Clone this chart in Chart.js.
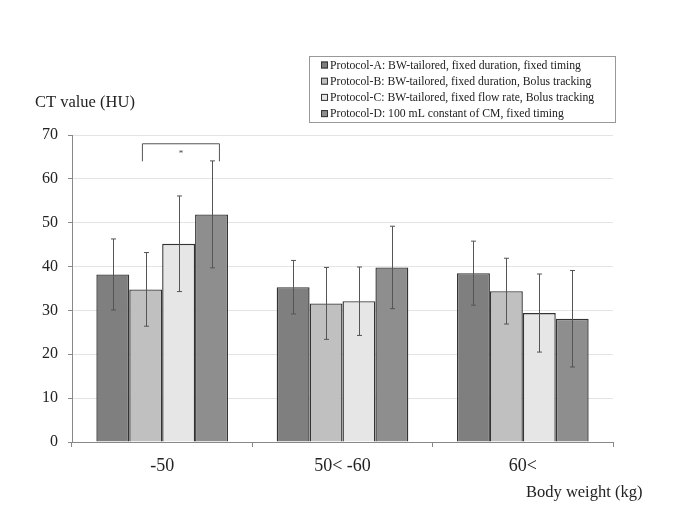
<!DOCTYPE html>
<html>
<head>
<meta charset="utf-8">
<script src="https://cdn.jsdelivr.net/npm/chart.js@4.4.1/dist/chart.umd.min.js"></script>
<style>
  html, body { margin: 0; padding: 0; background: #fff; }
  #wrap { width: 685px; height: 513px; position: relative; }
</style>
</head>
<body>
<div id="wrap"><canvas id="grafica"></canvas></div>
<script>
// datos
const categorias = ['-50', '50< -60', '60<'];
const protocolos = [
  'Protocol-A: BW-tailored, fixed duration, fixed timing',
  'Protocol-B: BW-tailored, fixed duration, Bolus tracking',
  'Protocol-C: BW-tailored, fixed flow rate, Bolus tracking',
  'Protocol-D: 100 mL constant of CM, fixed timing'
];
const mediaA = [38.2, 35.3, 38.5];
const mediaB = [34.8, 31.6, 34.4];
const mediaC = [45.2, 32.1, 29.4];
const mediaD = [51.9, 39.8, 28.1];
const sdA = [8.1, 6.1, 7.3];
const sdB = [8.4, 8.2, 7.5];
const sdC = [10.9, 7.8, 8.9];
const sdD = [12.2, 9.4, 11.0];
const ticksY = [0, 10, 20, 30, 40, 50, 60, 70];
// corchete de significancia (grupo -50, B vs D)
const sigGrupo = 0, sigDesde = 1, sigHasta = 3, sigArriba = 68, sigAbajo = 64;

const colores = ['#7f7f7f', '#c0c0c0', '#e6e6e6', '#8e8e8e'];
const medias = [mediaA, mediaB, mediaC, mediaD];
const sds = [sdA, sdB, sdC, sdD];
const fuente = "'Liberation Serif', 'DejaVu Serif', serif";

const barrasError = {
  id: 'barrasError',
  afterDatasetsDraw(chart) {
    const ctx = chart.ctx, y = chart.scales.y;
    ctx.save();
    ctx.strokeStyle = '#555';
    ctx.lineWidth = 1;
    chart.data.datasets.forEach((ds, i) => {
      chart.getDatasetMeta(i).data.forEach((bar, j) => {
        const x = Math.round(bar.x) + 0.5;
        const top = y.getPixelForValue(ds.data[j] + ds.sd[j]);
        const bot = y.getPixelForValue(ds.data[j] - ds.sd[j]);
        ctx.beginPath();
        ctx.moveTo(x, top); ctx.lineTo(x, bot);
        ctx.moveTo(x - 2.5, top); ctx.lineTo(x + 2.5, top);
        ctx.moveTo(x - 2.5, bot); ctx.lineTo(x + 2.5, bot);
        ctx.stroke();
      });
    });
    // corchete
    const b1 = chart.getDatasetMeta(sigDesde).data[sigGrupo];
    const b2 = chart.getDatasetMeta(sigHasta).data[sigGrupo];
    const x1 = b1.x - 0.1 * b1.width, x2 = b2.x + 0.24 * b2.width;
    const yA = y.getPixelForValue(sigArriba), yB = y.getPixelForValue(sigAbajo);
    ctx.beginPath();
    ctx.moveTo(x1, yB); ctx.lineTo(x1, yA); ctx.lineTo(x2, yA); ctx.lineTo(x2, yB);
    ctx.stroke();
    ctx.fillStyle = '#444';
    ctx.font = '9px ' + fuente;
    ctx.textAlign = 'center';
    ctx.textBaseline = 'middle';
    ctx.fillText('*', (x1 + x2) / 2, (yA + yB) / 2 + 1);
    ctx.restore();
  }
};

const leyendaYTitulos = {
  id: 'leyendaYTitulos',
  afterDraw(chart) {
    const ctx = chart.ctx;
    ctx.save();
    // titulos de ejes
    ctx.fillStyle = '#222';
    ctx.textBaseline = 'middle';
    ctx.font = '16.5px ' + fuente;
    ctx.textAlign = 'left';
    ctx.fillText('CT value (HU)', 35, 103);
    ctx.fillText('Body weight (kg)', 526, 493);
    // leyenda
    ctx.strokeStyle = '#999';
    ctx.lineWidth = 1;
    ctx.strokeRect(309.5, 56.5, 306, 66);
    ctx.font = '11.7px ' + fuente;
    chart.data.datasets.forEach((ds, i) => {
      const cy = 65 + i * 16.2;
      ctx.fillStyle = ds.backgroundColor;
      ctx.fillRect(321, cy - 3.5, 7, 7);
      ctx.strokeStyle = '#333';
      ctx.strokeRect(321.5, cy - 3, 6, 6);
      ctx.fillStyle = '#222';
      ctx.fillText(ds.label, 330, cy + 0.5);
    });
    ctx.restore();
  }
};

const grafica = document.getElementById('grafica');
new Chart(grafica, {
  type: 'bar',
  data: {
    labels: categorias,
    datasets: protocolos.map((p, i) => ({
      label: p,
      data: medias[i],
      sd: sds[i],
      backgroundColor: colores[i],
      borderColor: '#333',
      borderWidth: 1.4,
      categoryPercentage: 0.73,
      barPercentage: 1.0
    }))
  },
  options: {
    responsive: true,
    maintainAspectRatio: false,
    animation: false,
    layout: { padding: { left: 0, top: 135, right: 72, bottom: 26 } },
    plugins: {
      legend: { display: false },
      tooltip: { enabled: false }
    },
    scales: {
      x: {
        afterFit: (s) => { s.height = 45; },
        grid: { offset: true, drawOnChartArea: false, tickLength: 5, color: '#888' },
        border: { color: '#888' },
        ticks: { color: '#222', padding: 8, font: { family: fuente, size: 18 } }
      },
      y: {
        min: 0, max: 70,
        afterFit: (s) => { s.width = 72; },
        afterBuildTicks: (s) => { s.ticks = ticksY.map(v => ({ value: v })); },
        grid: { color: '#e4e4e4', tickColor: '#888', tickLength: 4 },
        border: { color: '#888' },
        ticks: { color: '#222', padding: 10, font: { family: fuente, size: 16 } }
      }
    }
  },
  plugins: [barrasError, leyendaYTitulos]
});
</script>
</body>
</html>
